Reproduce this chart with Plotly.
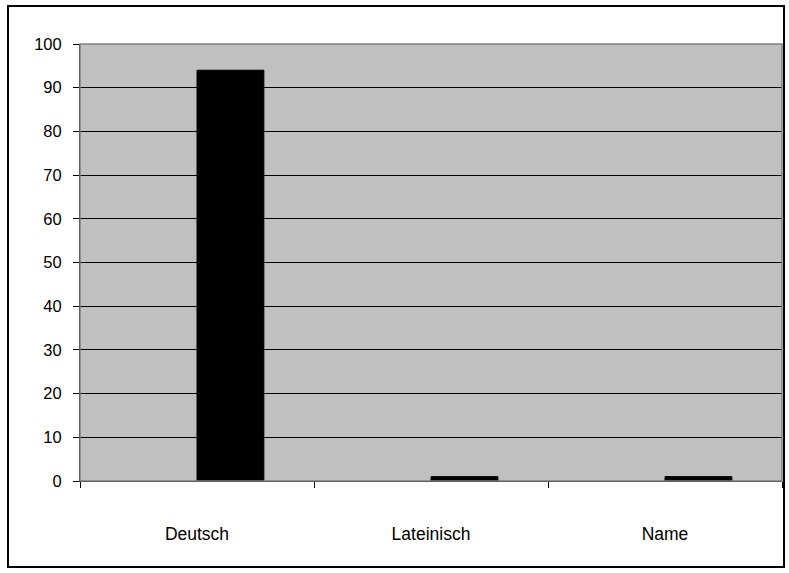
import plotly.graph_objects as go

categories = ["Deutsch", "Lateinisch", "Name"]
series_empty = [None, None, None]
series_values = [94, 1, 1]
y_ticks = [0, 10, 20, 30, 40, 50, 60, 70, 80, 90, 100]

W, H = 789, 573
L, R, T, B = 80, 782, 44, 481  # plot area pixels

fig = go.Figure()
fig.add_trace(go.Bar(x=categories, y=series_empty, marker=dict(color="rgba(0,0,0,0)", line=dict(width=0)), showlegend=False, hoverinfo="skip"))
fig.add_trace(go.Bar(x=categories, y=series_values, marker=dict(color="#000000", line=dict(color="#000000", width=1)), showlegend=False))

pw, ph = R - L, B - T
def px(x):
    return (x - L) / pw
def py(y):
    return (B - y) / ph

fig.update_layout(
    width=W, height=H,
    margin=dict(l=L, r=W - R, t=T, b=H - B, pad=0),
    paper_bgcolor="white",
    plot_bgcolor="#C0C0C0",
    barmode="group",
    bargap=1.5 / 3.5,
    bargroupgap=0,
    font=dict(family="Liberation Sans, Arial, sans-serif", size=16, color="#000000"),
    shapes=[
        dict(type="rect", xref="paper", yref="paper", x0=0, x1=1, y0=0, y1=1,
             line=dict(color="#808080", width=1.5), layer="above"),
        dict(type="rect", xref="paper", yref="paper", x0=px(8), x1=px(784), y0=py(567), y1=py(6),
             line=dict(color="#000000", width=2)),
    ],
)
fig.update_xaxes(
    type="category", tickson="boundaries", ticks="outside", ticklen=6, tickcolor="#000000",
    showline=True, linecolor="#000000", linewidth=1, showgrid=False,
    ticklabelstandoff=37, tickfont=dict(size=17.5),
)
fig.update_yaxes(
    range=[0, 100], tickvals=y_ticks, ticks="outside", ticklen=6, tickcolor="#000000",
    showline=True, linecolor="#000000", linewidth=1,
    showgrid=True, gridcolor="#000000", gridwidth=1, zeroline=False,
    ticklabelstandoff=8, tickfont=dict(size=16.5),
)

fig.write_html("out.html")
